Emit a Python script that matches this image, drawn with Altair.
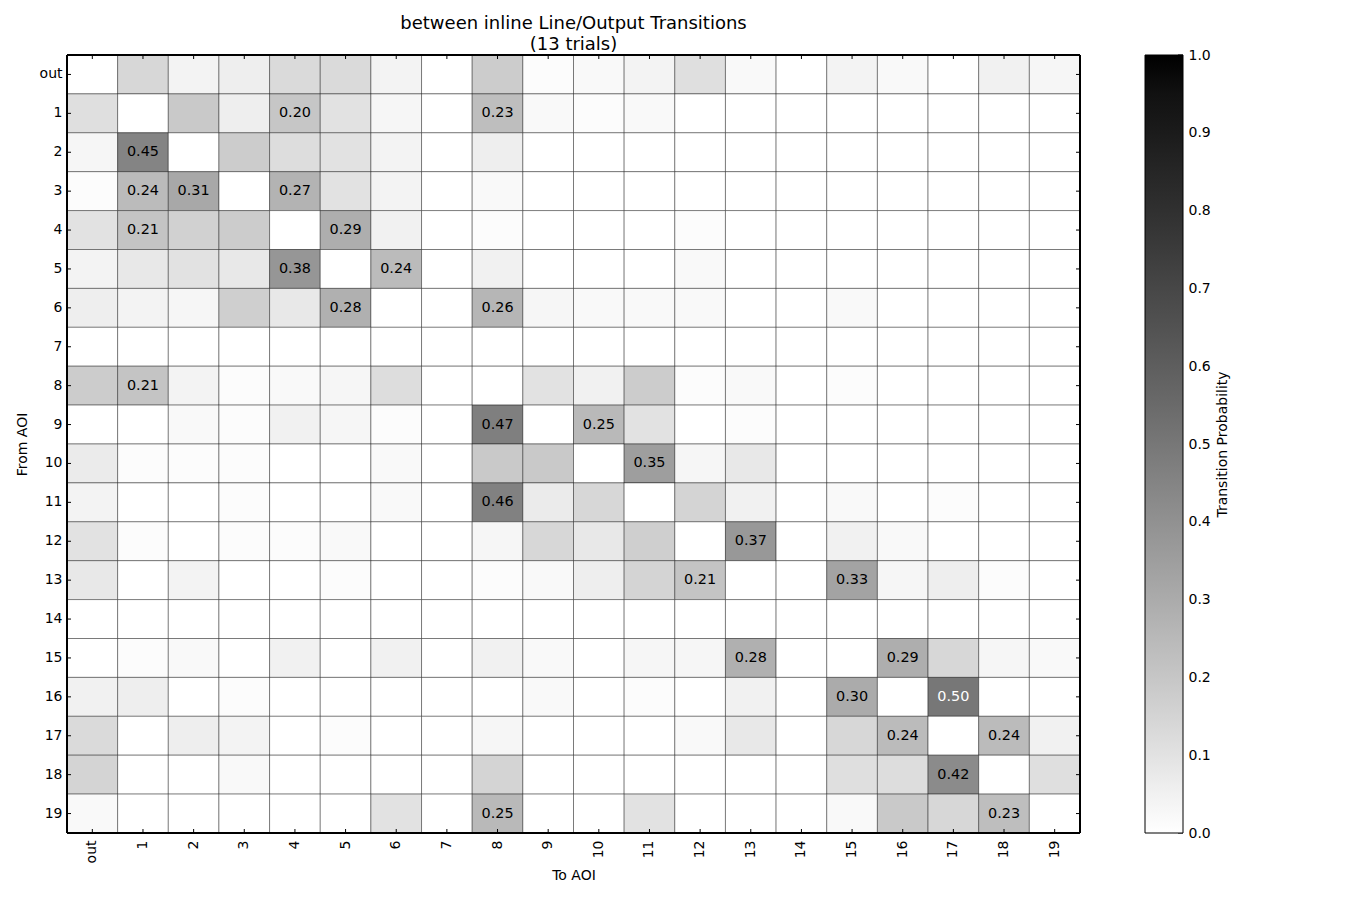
import altair as alt
import pandas as pd

labels = ["out"] + [str(i) for i in range(1, 20)]

from_out = [0, .14, .04, .06, .13, .13, .04, 0, .18, .01, .02, .04, .11, .02, 0, .04, .02, 0, .05, .03]
from_1 = [.11, 0, .19, .06, .20, .10, .03, 0, .23, .02, .01, .02, 0, 0, 0, 0, 0, 0, 0, 0]
from_2 = [.03, .45, 0, .18, .12, .10, .04, 0, .06, 0, 0, 0, 0, 0, 0, 0, 0, 0, 0, 0]
from_3 = [.01, .24, .31, 0, .27, .10, .04, 0, .02, 0, 0, 0, 0, 0, 0, 0, 0, 0, 0, 0]
from_4 = [.10, .21, .16, .18, 0, .29, .05, 0, .01, 0, 0, 0, .01, 0, 0, 0, 0, 0, 0, 0]
from_5 = [.04, .08, .10, .08, .38, 0, .24, 0, .05, 0, 0, 0, .02, 0, 0, 0, 0, 0, 0, 0]
from_6 = [.06, .04, .03, .17, .08, .28, 0, 0, .26, .03, .02, .02, .02, 0, 0, .02, 0, 0, 0, 0]
from_7 = [0, 0, 0, 0, 0, 0, 0, 0, 0, 0, 0, 0, 0, 0, 0, 0, 0, 0, 0, 0]
from_8 = [.18, .21, .04, .01, .02, .03, .12, 0, 0, .10, .05, .18, .01, .02, 0, .01, 0, 0, 0, 0]
from_9 = [0, 0, .02, .01, .05, .03, .01, 0, .47, 0, .25, .10, 0, .01, 0, 0, 0, 0, 0, 0]
from_10 = [.07, .01, .01, .01, 0, 0, .02, 0, .19, .19, 0, .35, .03, .08, 0, 0, 0, 0, 0, 0]
from_11 = [.04, 0, 0, .01, 0, 0, .02, 0, .46, .07, .14, 0, .15, .05, 0, .02, 0, .01, 0, 0]
from_12 = [.10, .01, 0, .01, .01, .02, 0, 0, .03, .14, .08, .17, 0, .37, 0, .05, .02, 0, 0, 0]
from_13 = [.08, 0, .04, 0, 0, .01, 0, 0, .01, .02, .06, .15, .21, 0, 0, .33, .03, .06, .01, 0]
from_14 = [0, 0, 0, 0, 0, 0, 0, 0, 0, 0, 0, 0, 0, 0, 0, 0, 0, 0, 0, 0]
from_15 = [0, .01, .02, 0, .05, 0, .05, 0, .05, .02, 0, .03, .03, .28, 0, 0, .29, .14, .03, .02]
from_16 = [.05, .06, 0, .01, 0, 0, 0, 0, 0, .02, 0, .01, 0, .05, 0, .30, 0, .50, 0, 0]
from_17 = [.13, 0, .06, .04, 0, .01, 0, 0, .03, 0, 0, 0, .02, .08, 0, .14, .24, 0, .24, .05]
from_18 = [.15, 0, 0, .02, 0, 0, 0, 0, .15, 0, 0, 0, 0, 0, 0, .11, .12, .42, 0, .11]
from_19 = [.02, 0, 0, 0, 0, 0, .10, 0, .25, 0, 0, .10, 0, 0, 0, .02, .19, .14, .23, 0]

rows = [from_out, from_1, from_2, from_3, from_4, from_5, from_6, from_7, from_8, from_9,
        from_10, from_11, from_12, from_13, from_14, from_15, from_16, from_17, from_18, from_19]

colorbar_ticks = [0, .1, .2, .3, .4, .5, .6, .7, .8, .9, 1.0]

records = []
for fr, row in zip(labels, rows):
    for to, p in zip(labels, row):
        records.append({"From": fr, "To": to, "p": p})
df = pd.DataFrame(records)
ticks_df = pd.DataFrame({"From": labels, "To": labels})
cbar_df = pd.DataFrame({"cb": colorbar_ticks})

W, H = 1013, 778
CB_X, CB_W = 1078, 38
FONT = "DejaVu Sans"

xscale = alt.Scale(domain=labels)
yscale = alt.Scale(domain=labels)

x_enc = alt.X("To:N", scale=xscale, title="To AOI",
              axis=alt.Axis(labelAngle=-90, labelAlign="right", labelBaseline="middle",
                            labelPadding=7, titlePadding=6))
y_enc = alt.Y("From:N", scale=yscale, title="From AOI",
              axis=alt.Axis(labelPadding=5, titlePadding=10))

cells = alt.Chart(df).mark_rect(stroke="black", strokeOpacity=0.4, strokeWidth=1).encode(
    x=x_enc,
    y=y_enc,
    color=alt.Color("p:Q",
                    scale=alt.Scale(domain=[0, 1], range=["#ffffff", "#000000"]),
                    legend=alt.Legend(orient="none", legendX=CB_X, legendY=0, padding=0,
                                      direction="vertical", gradientLength=H,
                                      gradientThickness=CB_W, gradientStrokeColor="black",
                                      gradientStrokeWidth=1, labelExpr="''",
                                      values=[0, 1], title=None)),
)

texts = alt.Chart(df).transform_filter("datum.p >= 0.2").mark_text(
    font=FONT, fontSize=14.4).encode(
    x=x_enc,
    y=y_enc,
    text=alt.Text("p:Q", format=".2f"),
    color=alt.condition("datum.p >= 0.5", alt.value("white"), alt.value("black")),
)

tick_base = alt.Chart(ticks_df)
top_ticks = tick_base.mark_rule(color="black", strokeWidth=1).encode(
    x=x_enc, y=alt.value(0), y2=alt.value(4))
bottom_ticks = tick_base.mark_rule(color="black", strokeWidth=1).encode(
    x=x_enc, y=alt.value(H), y2=alt.value(H - 4))
left_ticks = tick_base.mark_rule(color="black", strokeWidth=1).encode(
    y=y_enc, x=alt.value(0), x2=alt.value(4))
right_ticks = tick_base.mark_rule(color="black", strokeWidth=1).encode(
    y=y_enc, x=alt.value(W), x2=alt.value(W - 4))

frame = tick_base.mark_rect(fill=None, stroke="black", strokeWidth=1).encode(
    x=alt.value(0), x2=alt.value(W), y=alt.value(0), y2=alt.value(H))

heat = alt.layer(cells, texts, top_ticks, bottom_ticks, left_ticks, right_ticks, frame)

cbar = alt.Chart(cbar_df).mark_rule(color="black", strokeWidth=1).encode(
    y=alt.Y("cb:Q", scale=alt.Scale(domain=[0, 1], nice=False, zero=False),
            axis=alt.Axis(orient="right", offset=CB_X + CB_W - W, values=colorbar_ticks,
                          format=".1f", ticks=False, labelPadding=5, labelBaseline="middle",
                          labelFlush=False, labelOverlap=False,
                          title="Transition Probability", titleAngle=270, titlePadding=19,
                          titleFontSize=14)),
    x=alt.value(CB_X + CB_W - 5), x2=alt.value(CB_X + CB_W),
)

chart = alt.layer(heat, cbar).resolve_scale(y="independent").resolve_axis(y="independent").properties(
    width=W, height=H,
    title=alt.TitleParams(["between inline Line/Output Transitions", "(13 trials)"],
                          font=FONT, fontSize=18, fontWeight="normal", color="black",
                          anchor="middle", frame="group", offset=4, lineHeight=21, dy=10),
    autosize=alt.AutoSizeParams(type="none"),
    padding={"left": 59, "top": 47, "right": 262, "bottom": 59},
).configure_view(stroke=None).configure_axis(
    labelFont=FONT, labelFontSize=14, labelColor="black",
    titleFont=FONT, titleFontSize=14, titleFontWeight="normal", titleColor="black",
    ticks=False, domain=False, grid=False,
)

chart.save("out.html", embed_options={"renderer": "svg", "actions": False})
